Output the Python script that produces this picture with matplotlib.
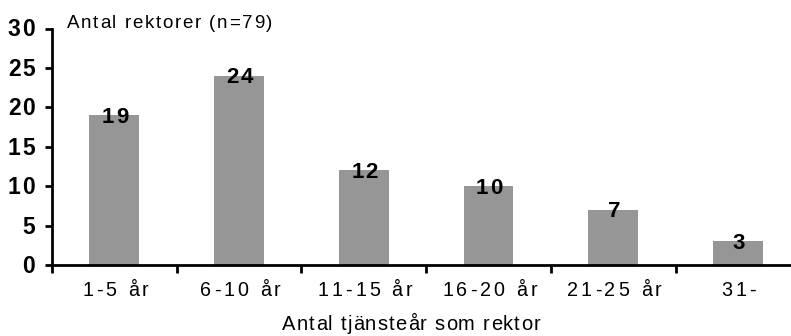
import matplotlib
matplotlib.use("Agg")
import matplotlib.pyplot as plt
import numpy as np
from matplotlib.font_manager import FontProperties, findfont, get_font

categories = ["1-5 år", "6-10 år", "11-15 år", "16-20 år", "21-25 år", "31-"]
values = [19, 24, 12, 10, 7, 3]
yticks = [0, 5, 10, 15, 20, 25, 30]
title = "Antal rektorer (n=79)"
xlabel = "Antal tjänsteår som rektor"

FAMILY = ["Liberation Sans", "DejaVu Sans"]
plt.rcParams["font.family"] = FAMILY

W, H = 791, 336
fig = plt.figure(figsize=(W / 100, H / 100), dpi=100)
left, right, bottom, top = 52, 791, 265, 28.5
ax = fig.add_axes([left / W, 1 - bottom / H, (right - left) / W, (bottom - top) / H])

x = np.arange(len(categories))
ax.bar(x, values, width=0.4, color="#969696", edgecolor="none", zorder=2)

step = 124.7
ax.set_xlim(-0.5, (right - left) / step - 0.5)
ax.set_ylim(0, 30)

ax.set_yticks(yticks)
ax.set_xticks(x)
ax.set_xticks(np.arange(-0.5, len(categories) - 0.5, 1.0), minor=True)
ax.tick_params(axis="x", which="major", length=0, labelbottom=False)
ax.tick_params(axis="x", which="minor", length=6, width=2, direction="out")
ax.tick_params(axis="y", length=5, width=2, direction="out", labelleft=False)

for s in ("top", "right"):
    ax.spines[s].set_visible(False)
for s in ("left", "bottom"):
    ax.spines[s].set_linewidth(2)


def spaced_text(xp, yb, s, size, weight="normal", spacing=0.0, ha="left", width=None):
    """Draw s with extra letter spacing; xp, yb are pixels from the top-left, yb is the baseline."""
    prop = FontProperties(family=FAMILY, size=size, weight=weight)
    font = get_font(findfont(prop))
    font.set_size(size, fig.dpi)
    adv = [font.load_char(ord(ch)).linearHoriAdvance / 65536 for ch in s]
    if width is not None and len(s) > 1:
        spacing = (width - sum(adv)) / (len(s) - 1)
    total = sum(adv) + spacing * (len(s) - 1)
    if ha == "center":
        x0 = xp - total / 2
    elif ha == "right":
        x0 = xp - total
    else:
        x0 = xp
    for ch, a in zip(s, adv):
        if ch != " ":
            fig.text(x0 / W, 1 - yb / H, ch, fontproperties=prop,
                     ha="left", va="baseline", color="black")
        x0 += a + spacing


def to_px(xd, yd):
    dx, dy = ax.transData.transform((xd, yd))
    return dx, H - dy


# y tick labels
for t in yticks:
    _, py = to_px(0, t)
    spaced_text(35, py + 8.0, str(t), 16.5, weight="bold", spacing=1.8, ha="right")

# x tick labels
for xi, lab in zip(x, categories):
    px, _ = to_px(xi, 0)
    spaced_text(px + 1, 296, lab, 14.2, spacing=3.0, ha="center")

# value labels on bars
for xi, v in zip(x, values):
    px, py = to_px(xi, v)
    spaced_text(px + 1, py + 7.5, str(v), 16, weight="bold", spacing=2.0, ha="center")

spaced_text(67, 28, title, 13.5, width=205)
spaced_text(282, 330, xlabel, 14.5, width=258)

fig.savefig("out.png", dpi=100)
